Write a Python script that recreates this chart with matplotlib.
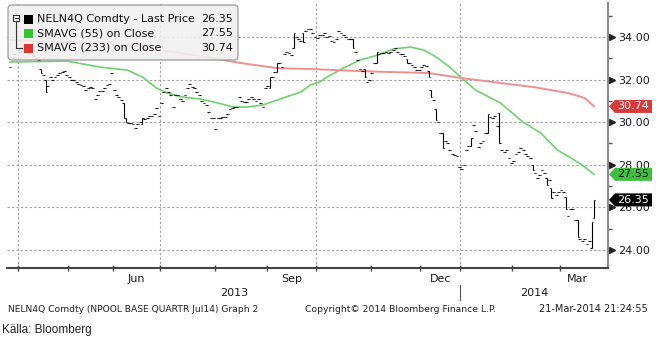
import matplotlib
matplotlib.use('Agg')
import matplotlib.pyplot as plt
import matplotlib.transforms as mtransforms
from matplotlib.patches import FancyBboxPatch, Polygon, Rectangle
import numpy as np

W, H = 656, 341

# daily closes (trading days, late Mar 2013 .. 21 Mar 2014)
closes = [
    32.6, 33.0, 33.2, 33.4, 33.3, 33.5, 33.6, 33.4, 33.2, 33.3,
    33.1, 33.0, 32.9, 32.3, 32.2, 31.4, 31.7, 32.1, 32.0, 32.1,
    32.2, 32.3, 32.35, 32.4, 32.2, 32.1, 32.0, 32.0, 31.9, 31.8,
    31.75, 31.7, 31.5, 31.6, 31.65, 31.6, 31.1, 31.3, 31.45, 31.45,
    31.6, 31.75, 31.8, 32.3, 31.5, 31.3, 31.2, 31.05, 30.2, 30.0,
    29.95, 29.95, 29.9, 29.75, 29.9, 30.0, 30.2, 30.15, 30.2, 30.3,
    30.3, 30.4, 30.65, 30.3, 30.9, 31.4, 31.6, 31.4, 31.3, 30.7,
    31.3, 31.3, 31.1, 31.0, 31.3, 31.6, 31.8, 31.65, 31.6, 31.4,
    31.3, 31.0, 30.9, 30.8, 30.5, 30.2, 30.2, 29.7, 30.2, 30.2,
    30.25, 30.25, 30.4, 30.6, 30.65, 30.7, 30.7, 31.2, 31.0, 30.95,
    30.95, 31.1, 31.2, 31.1, 31.0, 31.1, 30.9, 30.7, 31.6, 31.7,
    32.1, 32.1, 32.35, 32.8, 32.8, 32.6, 33.2, 33.3, 33.25, 33.15,
    34.2, 34.0, 33.9, 33.8, 33.75, 34.3, 34.4, 34.4, 34.2, 34.0,
    33.95, 34.1, 34.1, 34.2, 34.0, 34.05, 33.8, 33.75, 33.9, 34.3,
    34.2, 34.1, 34.0, 33.9, 33.9, 33.5, 33.3, 32.9, 32.5, 32.4,
    32.1, 31.9, 32.0, 32.3, 32.8, 33.3, 33.2, 33.25, 33.25, 33.3,
    33.25, 33.3, 33.4, 33.5, 33.3, 33.2, 33.2, 33.1, 32.8, 32.8,
    32.7, 32.6, 32.45, 32.45, 32.6, 32.7, 32.65, 32.1, 31.2, 31.05,
    30.1, 30.0, 29.5, 28.8, 29.1, 29.0, 28.7, 28.5, 28.45, 28.4,
    27.9, 27.8, 28.0, 28.7, 28.9, 29.25, 29.85, 29.6, 28.85, 29.0,
    29.1, 29.5, 30.4, 30.25, 30.2, 30.3, 29.8, 29.0, 28.7, 28.6,
    28.7, 28.3, 28.1, 28.2, 28.5, 28.6, 28.8, 28.7, 28.5, 28.4,
    28.3, 27.75, 27.6, 27.4, 27.5, 27.75, 27.6, 27.05, 27.3, 26.45,
    26.7, 26.6, 26.7, 26.8, 26.7, 25.9, 25.6, 25.9, 25.9, 25.4,
    24.6, 24.5, 24.4, 24.5, 24.3, 24.4, 25.3, 26.35,
]
# days where the open differs from the close (all others: open == close)
gap_days = [13, 15, 48, 49, 56, 110, 113, 120, 124, 145, 150, 155, 168, 177,
            178, 180, 183, 195, 202, 207, 221, 227, 229, 235, 240, 246, 247]
gap_opens = [32.5, 32.0, 30.9, 30.2, 29.9, 31.6, 32.35, 33.5, 34.2, 33.9, 32.5,
             32.8, 32.95, 32.4, 31.5, 30.6, 29.5, 28.9, 29.5, 30.45, 28.0, 27.4,
             26.9, 26.5, 25.4, 24.1, 25.5]

# moving averages (trading-day index, value)
ma55_idx = [0, 24, 38, 49.5, 56, 62, 66.5, 73, 80.5, 88, 94.5, 100, 107, 115.5,
            123, 127, 131, 134, 141, 148, 155.5, 162, 169.5, 175, 181, 186.5,
            190.5, 197, 207.5, 217, 224.5, 231.5, 238.5, 243, 247]
ma55_val = [32.83, 32.87, 32.59, 32.45, 32.12, 31.6, 31.37, 31.18, 31.09, 30.9,
            30.71, 30.71, 30.81, 31.14, 31.42, 31.75, 31.89, 32.12, 32.54, 32.92,
            33.15, 33.44, 33.53, 33.39, 33.01, 32.54, 32.12, 31.5, 30.9, 30.0,
            29.49, 28.69, 28.23, 27.9, 27.55]
ma233_idx = [0, 21, 42, 63.5, 80.5, 97.5, 113, 127, 148, 160, 177, 190.5,
             207.5, 221.5, 236, 243, 247]
ma233_val = [33.86, 33.77, 33.67, 33.39, 33.11, 32.78, 32.54, 32.5, 32.4, 32.36,
             32.31, 32.08, 31.84, 31.65, 31.37, 31.14, 30.74]

pre_days = 4
month_names = ['Apr', 'May', 'Jun', 'Jul', 'Aug', 'Sep', 'Oct', 'Nov', 'Dec',
               'Jan', 'Feb', 'Mar']
month_days = [21, 19, 20, 23, 22, 21, 23, 21, 17, 22, 20, 15]
labelled_months = ['Jun', 'Sep', 'Dec', 'Mar']
quarter_months = ['Apr', 'Jul', 'Oct', 'Jan']
years = ['2013', '2014']

last_price, ma55_last, ma233_last = 26.35, 27.55, 30.74
y_ticks = [24, 26, 28, 30, 32, 34]
y_minor = [25, 27, 29, 31, 33, 35]

GREEN_LINE = '#6fd36f'
RED_LINE = '#f09090'

fig = plt.figure(figsize=(W / 100, H / 100), dpi=100)
fig.patch.set_facecolor('white')


def fx(px):
    return px / W


def fy(py):
    return 1 - py / H


ax = fig.add_axes([fx(7), fy(268), fx(608) - fx(7), fy(3) - fy(268)])
ax.set_xlim(-1.3, 252.9)
ax.set_ylim(23.15, 35.6)

month_starts = pre_days + np.concatenate([[0], np.cumsum(month_days)[:-1]])
bounds = month_starts - 0.5

# grid
for v in y_ticks:
    ax.axhline(v, color='#a0a0a0', lw=0.8, ls=(0, (2, 2)), zorder=0)
for name, b in zip(month_names, bounds):
    if name in quarter_months:
        ax.axvline(b, color='#a0a0a0', lw=0.8, ls=(0, (2, 2)), zorder=0)

# OHLC bars
n = len(closes)
idx = np.arange(n)
opens = np.array(closes, dtype=float)
opens[gap_days] = gap_opens
cl = np.array(closes, dtype=float)
lo = np.minimum(opens, cl)
hi = np.maximum(opens, cl)
rng = hi > lo
ax.vlines(idx[rng], lo[rng], hi[rng], color='black', lw=0.8, zorder=3)
ax.hlines(opens, idx - 0.6, idx, color='black', lw=0.8, zorder=3)
ax.hlines(cl, idx, idx + 0.6, color='black', lw=0.8, zorder=3)

ax.plot(ma55_idx, ma55_val, color=GREEN_LINE, lw=1.2, zorder=2)
ax.plot(ma233_idx, ma233_val, color=RED_LINE, lw=1.4, zorder=2)

# axes styling
for s in ['top', 'left']:
    ax.spines[s].set_visible(False)
ax.spines['right'].set_color('#8c8c8c')
ax.spines['right'].set_linewidth(1.5)
ax.spines['bottom'].set_color('#444444')
ax.spines['bottom'].set_linewidth(1.5)

ax.yaxis.tick_right()
ax.set_yticks(y_ticks)
ax.set_yticklabels([f'{v:.2f}' for v in y_ticks])
ax.set_yticks(y_minor, minor=True)
ax.tick_params(axis='y', which='major', length=0, pad=7, labelsize=8,
               labelcolor='#1a1a1a')
ax.tick_params(axis='y', which='minor', length=3, direction='out',
               color='#555555', width=1)
tri_tr = mtransforms.blended_transform_factory(ax.transAxes, ax.transData)
ax.plot([1.0 + 4 / 601] * len(y_ticks), y_ticks, ls='none', marker='>',
        ms=4, color='#222222', transform=tri_tr, clip_on=False)

mid = {m: s + d / 2 - 0.5 for m, s, d in zip(month_names, month_starts, month_days)}
ax.set_xticks([mid[m] for m in labelled_months])
ax.set_xticklabels(labelled_months)
ax.set_xticks(list(bounds), minor=True)
ax.tick_params(axis='x', which='major', length=0, pad=4, labelsize=8,
               labelcolor='#1a1a1a')
ax.tick_params(axis='x', which='minor', length=5, direction='inout',
               color='#444444', width=1)

# years
jan_b = bounds[month_names.index('Jan')]
xtr = mtransforms.blended_transform_factory(ax.transData, ax.transAxes)
x0, x1 = ax.get_xlim()
ax.text((x0 + jan_b) / 2, -0.094, years[0], transform=xtr, ha='center',
        va='center', fontsize=8, color='#1a1a1a')
ax.text((jan_b + x1) / 2, -0.094, years[1], transform=xtr, ha='center',
        va='center', fontsize=8, color='#1a1a1a')
ax.plot([jan_b, jan_b], [-0.064, -0.121], transform=xtr, color='#555555',
        lw=0.8, clip_on=False)

ident = mtransforms.IdentityTransform()


def tag(value, face, txtcol):
    _, ypx = ax.transData.transform((0, value))
    x_tip, x_body, x_end, h = 609, 615, 652, 6.5
    pts = [(x_tip, ypx), (x_body, ypx + h), (x_end, ypx + h),
           (x_end, ypx - h), (x_body, ypx - h)]
    fig.add_artist(Polygon(pts, closed=True, facecolor=face, edgecolor='none',
                           transform=ident, zorder=5))
    fig.text(fx(633), ypx / H, f'{value:.2f}', ha='center', va='center',
             fontsize=8, color=txtcol, zorder=6)


tag(ma233_last, '#d93b3b', 'white')
tag(ma55_last, '#3dbf3d', '#111111')
tag(last_price, '#000000', 'white')

# legend box
fig.add_artist(FancyBboxPatch((8, H - 60), 230, 55,
                              boxstyle='round,pad=0,rounding_size=4',
                              facecolor='#f0f0f0', edgecolor='#9a9a9a',
                              alpha=0.9, lw=1, transform=ident, zorder=7))
# collapse icon
fig.add_artist(Rectangle((13, H - 21), 6, 6, facecolor='white',
                         edgecolor='#333333', lw=0.8, transform=ident, zorder=8))
fig.add_artist(plt.Line2D([14.5, 17.5], [H - 18, H - 18], color='#333333',
                          lw=0.8, transform=ident, zorder=8))
fig.add_artist(plt.Line2D([16, 16, 22], [H - 21, H - 48, H - 48],
                          color='#333333', lw=0.8, transform=ident, zorder=8))

legend_rows = [('NELN4Q Comdty - Last Price', last_price, '#000000'),
               ('SMAVG (55) on Close', ma55_last, '#33c433'),
               ('SMAVG (233) on Close', ma233_last, '#e03333')]
for k, (lab, val, col) in enumerate(legend_rows):
    yc = 19 + k * 14.5
    fig.add_artist(Rectangle((24, H - yc - 4.5), 9, 9, facecolor=col,
                             edgecolor='none', transform=ident, zorder=8))
    fig.text(fx(37), fy(yc), lab, ha='left', va='center', fontsize=8,
             color='#111111', zorder=9)
    fig.text(fx(233), fy(yc), f'{val:.2f}', ha='right', va='center',
             fontsize=8, color='#111111', zorder=9)

# footer
fig.text(fx(8), fy(309), 'NELN4Q Comdty (NPOOL BASE QUARTR Jul14) Graph 2',
         ha='left', va='center', fontsize=6.6, color='#222222')
fig.text(fx(305), fy(309), 'Copyright\u00a9 2014 Bloomberg Finance L.P.',
         ha='left', va='center', fontsize=6.7, color='#222222')
fig.text(fx(648), fy(309), '21-Mar-2014 21:24:55', ha='right', va='center',
         fontsize=7, color='#222222')
fig.text(fx(2), fy(330), 'Källa: Bloomberg', ha='left', va='center',
         fontsize=8.5, color='#222222',
         family=['Liberation Sans Narrow', 'Liberation Sans'])

fig.savefig('out.png', dpi=100)
